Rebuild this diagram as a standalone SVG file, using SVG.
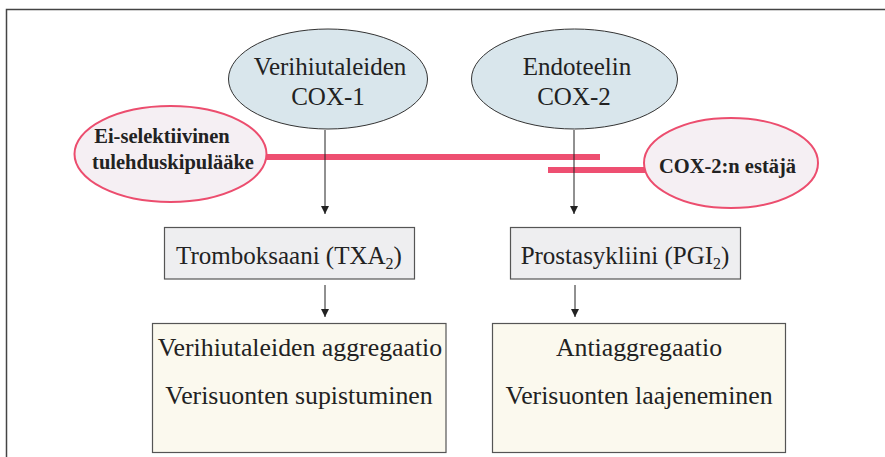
<svg xmlns="http://www.w3.org/2000/svg" width="885" height="457" viewBox="0 0 885 457">
<defs>
<style>
.frame{fill:none;stroke:#444;stroke-width:1.5}
.enz{fill:#d9e6ec;stroke:#333;stroke-width:1}
.inh{fill:#f5eff3;stroke:#ec4d6e;stroke-width:2}
.mid{fill:#eeeef0;stroke:#555;stroke-width:1.2}
.eff{fill:#fbf9ee;stroke:#555;stroke-width:1.2}
.t{font-family:"Liberation Serif","Times New Roman",serif;font-size:25px;fill:#222;text-anchor:middle}
.e{font-size:25.8px}
.b{font-family:"Liberation Serif","Times New Roman",serif;font-size:20.5px;font-weight:bold;fill:#222;text-anchor:middle}
.block{stroke:#ee4f71;stroke-width:6;fill:none}
.arr{stroke:#222;stroke-width:1;fill:none;marker-end:url(#ah)}
</style>
<marker id="ah" viewBox="0 0 8 8" refX="8" refY="4" markerWidth="8" markerHeight="8" markerUnits="userSpaceOnUse" orient="auto">
<path d="M0,0 L8,4 L0,8 z" fill="#222"/>
</marker>
</defs>
<rect width="885" height="457" fill="#fff"/>
<path class="frame" d="M6.5,470 V9.5 H900"/>

<g id="inhibitor-lines">
<line class="block" x1="266" y1="157" x2="600" y2="157"/>
<line class="block" x1="548" y1="170" x2="645" y2="170"/>
</g>

<g id="cox1">
<ellipse class="enz" cx="328" cy="79" rx="99.5" ry="50"/>
<text class="t" x="330" y="75">Verihiutaleiden</text>
<text class="t" x="328" y="105">COX-1</text>
</g>

<g id="cox2">
<ellipse class="enz" cx="574.5" cy="79" rx="103" ry="50"/>
<text class="t" x="577" y="75">Endoteelin</text>
<text class="t" x="574" y="105">COX-2</text>
</g>

<g id="nsaid">
<ellipse class="inh" cx="170.5" cy="154" rx="96" ry="48"/>
<text class="b" x="162" y="143">Ei-selektiivinen</text>
<text class="b" x="173" y="169">tulehduskipulääke</text>
</g>

<g id="cox2-inhibitor">
<ellipse class="inh" cx="731" cy="163" rx="87" ry="45"/>
<text class="b" x="727.5" y="173">COX-2:n estäjä</text>
</g>

<g id="txa2">
<rect class="mid" x="164.5" y="227.5" width="250" height="51.5"/>
<text class="t" x="289" y="264">Tromboksaani (TXA<tspan font-size="16" dy="5">2</tspan><tspan dy="-5">)</tspan></text>
</g>

<g id="pgi2">
<rect class="mid" x="510.5" y="227.5" width="230" height="51.5"/>
<text class="t" x="625" y="264">Prostasykliini (PGI<tspan font-size="16" dy="5">2</tspan><tspan dy="-5">)</tspan></text>
</g>

<g id="effect-txa2">
<rect class="eff" x="152.5" y="323.5" width="293.5" height="129"/>
<text class="t e" x="300" y="356">Verihiutaleiden aggregaatio</text>
<text class="t e" x="299" y="404">Verisuonten supistuminen</text>
</g>

<g id="effect-pgi2">
<rect class="eff" x="492.5" y="323.5" width="293" height="129"/>
<text class="t e" x="639" y="356">Antiaggregaatio</text>
<text class="t e" x="639" y="404">Verisuonten laajeneminen</text>
</g>

<g id="connectors">
<line class="arr" x1="325" y1="130" x2="325" y2="214"/>
<line class="arr" x1="574" y1="130" x2="574" y2="214"/>
<line class="arr" x1="325" y1="285" x2="325" y2="317"/>
<line class="arr" x1="575" y1="285" x2="575" y2="317"/>
</g>
</svg>
